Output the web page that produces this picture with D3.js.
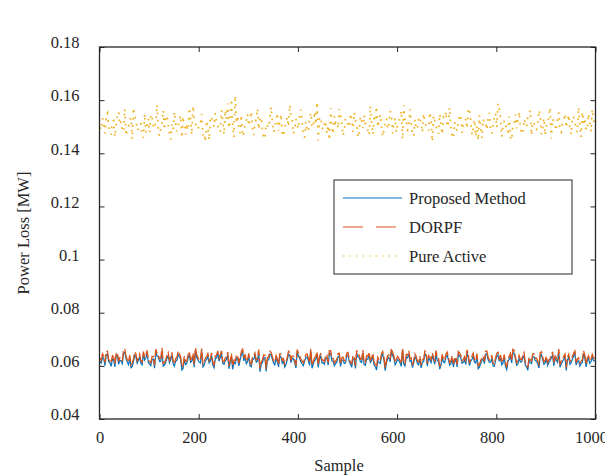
<!DOCTYPE html>
<html><head><meta charset="utf-8">
<script src="https://cdn.jsdelivr.net/npm/d3@7"></script>
<style>body{margin:0;background:#fff}svg{display:block}text{font-family:"Liberation Serif","Times New Roman",serif;fill:#262626}</style>
</head><body>
<script>
const xTicks = [0,200,400,600,800,1000];
const yTicks = [0.04,0.06,0.08,0.1,0.12,0.14,0.16,0.18];
const yTickLabels = ["0.04","0.06","0.08","0.1","0.12","0.14","0.16","0.18"];
const seriesNames = ["Proposed Method","DORPF","Pure Active"];
const samples = d3.range(1, 1001, 2.5);
const proposed = [
0.0618,0.0610,0.0632,0.0628,0.0601,0.0641,0.0645,0.0615,0.0612,0.0598,0.0627,0.0622,0.0596,0.0637,0.0639,0.0606,0.0621,0.0619,0.0608,0.0649,
0.0650,0.0627,0.0615,0.0604,0.0629,0.0593,0.0598,0.0616,0.0641,0.0634,0.0610,0.0621,0.0633,0.0609,0.0604,0.0645,0.0622,0.0630,0.0648,0.0612,
0.0607,0.0601,0.0625,0.0625,0.0591,0.0652,0.0637,0.0633,0.0616,0.0617,0.0655,0.0599,0.0603,0.0613,0.0628,0.0639,0.0612,0.0624,0.0640,0.0608,
0.0599,0.0618,0.0621,0.0643,0.0634,0.0626,0.0585,0.0590,0.0626,0.0605,0.0609,0.0629,0.0643,0.0614,0.0617,0.0636,0.0595,0.0658,0.0631,0.0622,
0.0614,0.0611,0.0659,0.0596,0.0602,0.0620,0.0624,0.0635,0.0611,0.0618,0.0638,0.0603,0.0593,0.0627,0.0629,0.0647,0.0618,0.0631,0.0646,0.0609,
0.0606,0.0619,0.0623,0.0641,0.0589,0.0612,0.0635,0.0587,0.0613,0.0608,0.0627,0.0630,0.0600,0.0623,0.0642,0.0654,0.0619,0.0633,0.0608,0.0615,
0.0636,0.0600,0.0597,0.0624,0.0625,0.0639,0.0614,0.0617,0.0651,0.0578,0.0604,0.0612,0.0630,0.0631,0.0579,0.0621,0.0622,0.0644,0.0640,0.0626,
0.0610,0.0604,0.0628,0.0616,0.0596,0.0637,0.0633,0.0610,0.0617,0.0595,0.0605,0.0623,0.0644,0.0640,0.0612,0.0628,0.0626,0.0613,0.0592,0.0650,
0.0638,0.0629,0.0615,0.0607,0.0601,0.0618,0.0631,0.0634,0.0620,0.0602,0.0653,0.0591,0.0607,0.0620,0.0624,0.0642,0.0594,0.0625,0.0637,0.0611,
0.0613,0.0606,0.0629,0.0630,0.0603,0.0646,0.0646,0.0619,0.0618,0.0600,0.0609,0.0614,0.0635,0.0636,0.0598,0.0622,0.0622,0.0609,0.0611,0.0638,
0.0640,0.0617,0.0605,0.0597,0.0627,0.0624,0.0590,0.0648,0.0633,0.0631,0.0616,0.0613,0.0648,0.0605,0.0602,0.0627,0.0625,0.0641,0.0613,0.0620,
0.0636,0.0603,0.0597,0.0584,0.0621,0.0612,0.0609,0.0635,0.0643,0.0623,0.0582,0.0610,0.0628,0.0632,0.0615,0.0655,0.0639,0.0628,0.0604,0.0614,
0.0624,0.0620,0.0611,0.0598,0.0657,0.0607,0.0600,0.0633,0.0630,0.0645,0.0617,0.0621,0.0593,0.0611,0.0634,0.0626,0.0608,0.0604,0.0626,0.0592,
0.0614,0.0616,0.0645,0.0639,0.0599,0.0630,0.0622,0.0612,0.0637,0.0624,0.0606,0.0647,0.0619,0.0619,0.0588,0.0602,0.0632,0.0615,0.0612,0.0634,
0.0641,0.0622,0.0603,0.0608,0.0627,0.0596,0.0616,0.0625,0.0596,0.0643,0.0638,0.0629,0.0610,0.0613,0.0623,0.0605,0.0650,0.0631,0.0601,0.0618,
0.0625,0.0637,0.0614,0.0610,0.0635,0.0589,0.0595,0.0609,0.0620,0.0627,0.0608,0.0644,0.0644,0.0623,0.0613,0.0614,0.0629,0.0600,0.0598,0.0621,
0.0636,0.0640,0.0617,0.0632,0.0604,0.0611,0.0631,0.0598,0.0586,0.0618,0.0624,0.0636,0.0611,0.0651,0.0647,0.0626,0.0602,0.0607,0.0628,0.0615,
0.0615,0.0629,0.0639,0.0603,0.0597,0.0583,0.0622,0.0612,0.0609,0.0634,0.0634,0.0620,0.0618,0.0608,0.0592,0.0638,0.0642,0.0624,0.0606,0.0611,
0.0626,0.0601,0.0613,0.0619,0.0630,0.0642,0.0600,0.0628,0.0621,0.0613,0.0652,0.0595,0.0607,0.0617,0.0625,0.0633,0.0583,0.0622,0.0633,0.0606,
0.0612,0.0626,0.0637,0.0645,0.0603,0.0616,0.0619,0.0599,0.0610,0.0612,0.0645,0.0630,0.0596,0.0621,0.0627,0.0609,0.0616,0.0632,0.0620,0.0618];
const dorpf = [
0.0628,0.0621,0.0645,0.0637,0.0612,0.0652,0.0655,0.0624,0.0620,0.0611,0.0638,0.0633,0.0607,0.0646,0.0650,0.0617,0.0631,0.0630,0.0617,0.0660,
0.0662,0.0636,0.0624,0.0615,0.0640,0.0604,0.0609,0.0627,0.0652,0.0645,0.0619,0.0630,0.0644,0.0620,0.0614,0.0654,0.0633,0.0641,0.0658,0.0621,
0.0616,0.0612,0.0636,0.0636,0.0602,0.0663,0.0648,0.0642,0.0626,0.0628,0.0668,0.0609,0.0611,0.0624,0.0639,0.0650,0.0621,0.0633,0.0651,0.0619,
0.0608,0.0627,0.0632,0.0655,0.0646,0.0635,0.0596,0.0601,0.0637,0.0616,0.0618,0.0640,0.0654,0.0623,0.0627,0.0647,0.0604,0.0668,0.0642,0.0631,
0.0623,0.0622,0.0665,0.0607,0.0613,0.0629,0.0635,0.0646,0.0620,0.0627,0.0649,0.0614,0.0603,0.0638,0.0640,0.0656,0.0629,0.0642,0.0657,0.0618,
0.0615,0.0630,0.0634,0.0652,0.0599,0.0621,0.0646,0.0598,0.0622,0.0619,0.0638,0.0641,0.0610,0.0632,0.0653,0.0665,0.0630,0.0644,0.0617,0.0624,
0.0647,0.0611,0.0606,0.0635,0.0636,0.0648,0.0623,0.0628,0.0661,0.0590,0.0614,0.0623,0.0641,0.0640,0.0588,0.0632,0.0633,0.0655,0.0651,0.0635,
0.0619,0.0615,0.0639,0.0627,0.0605,0.0646,0.0644,0.0621,0.0627,0.0606,0.0615,0.0632,0.0655,0.0651,0.0621,0.0637,0.0637,0.0624,0.0601,0.0661,
0.0649,0.0638,0.0625,0.0618,0.0611,0.0627,0.0642,0.0645,0.0630,0.0613,0.0664,0.0602,0.0616,0.0631,0.0635,0.0653,0.0603,0.0634,0.0648,0.0622,
0.0622,0.0615,0.0640,0.0641,0.0612,0.0657,0.0657,0.0628,0.0628,0.0611,0.0618,0.0625,0.0646,0.0647,0.0607,0.0631,0.0633,0.0620,0.0620,0.0649,
0.0651,0.0626,0.0614,0.0608,0.0638,0.0635,0.0600,0.0659,0.0644,0.0640,0.0626,0.0624,0.0659,0.0614,0.0611,0.0638,0.0636,0.0652,0.0622,0.0629,
0.0647,0.0614,0.0606,0.0595,0.0632,0.0623,0.0618,0.0646,0.0654,0.0632,0.0592,0.0621,0.0639,0.0641,0.0624,0.0666,0.0650,0.0637,0.0613,0.0625,
0.0635,0.0629,0.0620,0.0609,0.0667,0.0618,0.0609,0.0644,0.0641,0.0656,0.0627,0.0630,0.0602,0.0622,0.0645,0.0635,0.0617,0.0615,0.0637,0.0603,
0.0623,0.0625,0.0656,0.0650,0.0608,0.0639,0.0633,0.0623,0.0648,0.0633,0.0615,0.0658,0.0630,0.0628,0.0597,0.0613,0.0643,0.0624,0.0621,0.0645,
0.0652,0.0631,0.0612,0.0619,0.0638,0.0607,0.0626,0.0634,0.0605,0.0654,0.0649,0.0638,0.0619,0.0624,0.0634,0.0614,0.0660,0.0642,0.0610,0.0627,
0.0636,0.0648,0.0623,0.0619,0.0646,0.0600,0.0604,0.0620,0.0631,0.0636,0.0617,0.0655,0.0655,0.0632,0.0622,0.0625,0.0640,0.0611,0.0607,0.0630,
0.0647,0.0651,0.0627,0.0641,0.0613,0.0622,0.0642,0.0609,0.0595,0.0627,0.0635,0.0647,0.0620,0.0662,0.0658,0.0635,0.0611,0.0618,0.0639,0.0624,
0.0624,0.0640,0.0650,0.0612,0.0606,0.0594,0.0633,0.0623,0.0618,0.0645,0.0645,0.0629,0.0629,0.0619,0.0601,0.0649,0.0653,0.0633,0.0615,0.0622,
0.0637,0.0612,0.0622,0.0628,0.0641,0.0653,0.0609,0.0637,0.0632,0.0624,0.0663,0.0606,0.0616,0.0626,0.0636,0.0644,0.0593,0.0631,0.0644,0.0617,
0.0621,0.0635,0.0648,0.0656,0.0612,0.0625,0.0630,0.0610,0.0619,0.0623,0.0656,0.0641,0.0605,0.0630,0.0638,0.0620,0.0625,0.0643,0.0631,0.0627];
const pureActive = [
0.1498,0.1488,0.1532,0.1512,0.1475,0.1541,0.1551,0.1497,0.1489,0.1470,0.1520,0.1523,0.1462,0.1508,0.1544,0.1556,0.1507,0.1519,0.1481,0.1483,
0.1567,0.1466,0.1495,0.1501,0.1526,0.1534,0.1453,0.1572,0.1538,0.1527,0.1486,0.1492,0.1512,0.1511,0.1470,0.1459,0.1549,0.1478,0.1502,0.1530,
0.1478,0.1547,0.1535,0.1503,0.1493,0.1521,0.1583,0.1484,0.1465,0.1495,0.1517,0.1562,0.1488,0.1538,0.1542,0.1507,0.1474,0.1452,0.1509,0.1489,
0.1556,0.1516,0.1483,0.1499,0.1528,0.1543,0.1458,0.1525,0.1515,0.1471,0.1497,0.1486,0.1571,0.1531,0.1469,0.1579,0.1534,0.1514,0.1491,0.1492,
0.1505,0.1509,0.1547,0.1467,0.1477,0.1443,0.1523,0.1498,0.1450,0.1535,0.1539,0.1520,0.1499,0.1551,0.1518,0.1506,0.1482,0.1481,0.1562,0.1524,
0.1471,0.1563,0.1530,0.1587,0.1494,0.1530,0.1604,0.1502,0.1460,0.1618,0.1513,0.1541,0.1487,0.1476,0.1545,0.1463,0.1476,0.1512,0.1521,0.1548,
0.1503,0.1528,0.1558,0.1494,0.1468,0.1517,0.1527,0.1569,0.1490,0.1533,0.1536,0.1487,0.1456,0.1455,0.1511,0.1504,0.1496,0.1539,0.1575,0.1522,
0.1479,0.1496,0.1524,0.1552,0.1485,0.1515,0.1548,0.1473,0.1464,0.1500,0.1516,0.1537,0.1500,0.1583,0.1540,0.1526,0.1473,0.1490,0.1529,0.1508,
0.1492,0.1546,0.1564,0.1518,0.1461,0.1461,0.1519,0.1482,0.1484,0.1529,0.1553,0.1505,0.1497,0.1557,0.1508,0.1593,0.1447,0.1532,0.1537,0.1497,
0.1489,0.1513,0.1522,0.1474,0.1506,0.1449,0.1569,0.1503,0.1472,0.1540,0.1514,0.1519,0.1493,0.1566,0.1543,0.1510,0.1466,0.1485,0.1531,0.1527,
0.1501,0.1499,0.1550,0.1533,0.1480,0.1554,0.1525,0.1508,0.1459,0.1477,0.1539,0.1521,0.1495,0.1544,0.1512,0.1495,0.1486,0.1468,0.1578,0.1516,
0.1470,0.1538,0.1527,0.1576,0.1498,0.1524,0.1546,0.1502,0.1463,0.1487,0.1517,0.1531,0.1491,0.1512,0.1559,0.1548,0.1475,0.1506,0.1533,0.1479,
0.1504,0.1515,0.1541,0.1560,0.1452,0.1581,0.1520,0.1525,0.1487,0.1493,0.1566,0.1511,0.1468,0.1464,0.1528,0.1490,0.1496,0.1534,0.1537,0.1518,
0.1478,0.1550,0.1513,0.1503,0.1502,0.1485,0.1555,0.1527,0.1444,0.1542,0.1523,0.1500,0.1490,0.1473,0.1548,0.1509,0.1471,0.1536,0.1530,0.1558,
0.1499,0.1514,0.1572,0.1488,0.1465,0.1456,0.1518,0.1497,0.1484,0.1523,0.1542,0.1545,0.1477,0.1506,0.1509,0.1531,0.1493,0.1570,0.1561,0.1520,
0.1469,0.1495,0.1526,0.1463,0.1505,0.1448,0.1544,0.1501,0.1457,0.1529,0.1515,0.1517,0.1488,0.1539,0.1552,0.1492,0.1474,0.1510,0.1534,0.1551,
0.1497,0.1588,0.1568,0.1533,0.1462,0.1504,0.1521,0.1522,0.1483,0.1480,0.1538,0.1459,0.1449,0.1507,0.1511,0.1546,0.1494,0.1526,0.1557,0.1498,
0.1476,0.1472,0.1529,0.1515,0.1500,0.1535,0.1547,0.1562,0.1467,0.1519,0.1516,0.1491,0.1489,0.1513,0.1563,0.1544,0.1472,0.1496,0.1532,0.1468,
0.1503,0.1508,0.1540,0.1573,0.1455,0.1530,0.1519,0.1502,0.1485,0.1527,0.1554,0.1484,0.1479,0.1512,0.1524,0.1549,0.1496,0.1521,0.1545,0.1493,
0.1470,0.1539,0.1536,0.1517,0.1492,0.1478,0.1574,0.1505,0.1461,0.1555,0.1514,0.1532,0.1487,0.1489,0.1549,0.1514,0.1481,0.1566,0.1527,0.1503];

const W = 605, H = 475;
const L = 99.5, R = 595.5, T = 47, B = 419;
const fs = 16.5;
const axisColor = "#262626";
const svg = d3.select("body").append("svg").attr("width", W).attr("height", H);
const x = d3.scaleLinear().domain([0, 1000]).range([L, R]);
const y = d3.scaleLinear().domain([0.04, 0.18]).range([B, T]);

const colors = ["#0072BD", "#D95319", "#EDB120"];
const plotDash = [null, "12,2.5", "1.7,5.5"];
const plotWidth = [1.2, 1.3, 1.7];
const legendDash = [null, "20,13", "1.5,5"];
const datasets = [proposed, dorpf, pureActive];

svg.append("clipPath").attr("id", "c").append("rect")
  .attr("x", L).attr("y", T).attr("width", R - L).attr("height", B - T);
const line = d3.line().x((d, i) => x(samples[i])).y(d => y(d));
const plot = svg.append("g").attr("clip-path", "url(#c)");
datasets.forEach((ds, k) => {
  plot.append("path").datum(ds).attr("d", line)
    .attr("fill", "none").attr("stroke", colors[k]).attr("stroke-width", plotWidth[k])
    .attr("stroke-dasharray", plotDash[k]);
});

// axes
const gx = svg.append("g").attr("transform", `translate(0,${B})`)
  .call(d3.axisBottom(x).tickValues(xTicks).tickSizeInner(-5).tickSizeOuter(0).tickPadding(12).tickFormat(d3.format("d")));
const gxt = svg.append("g").attr("transform", `translate(0,${T})`)
  .call(d3.axisTop(x).tickValues(xTicks).tickSizeInner(-5).tickSizeOuter(0).tickFormat(""));
const gy = svg.append("g").attr("transform", `translate(${L},0)`)
  .call(d3.axisLeft(y).tickValues(yTicks).tickSizeInner(-5).tickSizeOuter(0).tickPadding(20).tickFormat((d, i) => yTickLabels[i]));
const gyr = svg.append("g").attr("transform", `translate(${R},0)`)
  .call(d3.axisRight(y).tickValues(yTicks).tickSizeInner(-5).tickSizeOuter(0).tickFormat(""));
[gx, gxt, gy, gyr].forEach(g => {
  g.select(".domain").remove();
  g.selectAll("line").attr("stroke", axisColor).attr("stroke-width", 1);
  g.selectAll("text").attr("font-family", '"Liberation Serif",serif').attr("font-size", fs).attr("fill", axisColor);
});
gy.selectAll("text").attr("dy", "0.05em");
gx.selectAll("text").attr("dy", "0.7em").attr("dx", d => d === 0 ? 0 : -4.5);
svg.append("rect").attr("x", L).attr("y", T).attr("width", R - L).attr("height", B - T)
  .attr("fill", "none").attr("stroke", axisColor).attr("stroke-width", 1.3);

svg.append("text").attr("x", 339).attr("y", 471).attr("text-anchor", "middle")
  .attr("font-size", fs).text("Sample");
svg.append("text").attr("transform", `translate(29,${(T + B) / 2}) rotate(-90)`)
  .attr("text-anchor", "middle").attr("font-size", fs).text("Power Loss [MW]");

// legend
const lg = svg.append("g");
lg.append("rect").attr("x", 334).attr("y", 180).attr("width", 238).attr("height", 94)
  .attr("fill", "#fff").attr("stroke", axisColor).attr("stroke-width", 1);
seriesNames.forEach((n, k) => {
  const yy = 198 + k * 29;
  lg.append("line").attr("x1", 343).attr("x2", 402).attr("y1", yy).attr("y2", yy)
    .attr("stroke", colors[k]).attr("stroke-width", 1).attr("stroke-dasharray", legendDash[k]);
  lg.append("text").attr("x", 409).attr("y", yy + 5.5).attr("font-size", fs).text(n);
});
</script>
</body></html>
